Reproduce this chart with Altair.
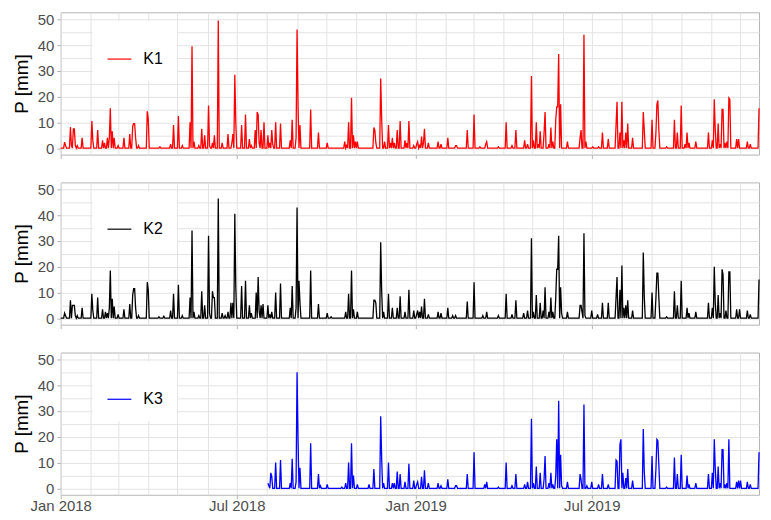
import altair as alt
import numpy as np
import pandas as pd

FONT = "Liberation Sans"
START = "2018-01-01"
N_DAYS = 719  # 2018-01-01 .. 2019-12-20

# Rain events: day offset from 2018-01-01 and value [mm]
k1_day = [4, 5, 10, 11, 13, 14, 15, 17, 22, 32, 33, 38, 43, 45, 48, 50, 51, 53, 55, 59, 65, 71, 74, 75, 76, 77, 80,
          89, 90, 102, 113, 116, 121, 125, 133, 135, 137, 142, 145, 148, 152, 153, 156, 158, 162, 166, 172, 176, 177,
          179, 180, 186, 190, 194, 196, 200, 202, 203, 204, 206, 209, 213, 215, 217, 218, 221, 226, 236, 238, 242,
          243, 244, 246, 257, 265, 274, 292, 294, 296, 299, 301, 303, 305, 322, 323, 324, 329, 330, 333, 337, 339,
          341, 343, 346, 349, 354, 356, 358, 363, 366, 367, 369, 371, 373, 374, 378, 388, 391, 398, 406, 407, 418,
          425, 431, 437, 438, 450, 458, 464, 468, 477, 480, 484, 486, 489, 491, 493, 497, 498, 502, 504, 506, 509,
          510, 511, 512, 514, 521, 534, 535, 538, 540, 547, 553, 557, 563, 571, 572, 575, 577, 579, 581, 583, 588,
          599, 600, 608, 612, 613, 614, 615, 623, 631, 634, 638, 642, 644, 646, 653, 666, 670, 672, 673, 676, 678,
          680, 681, 683, 685, 687, 688, 695, 697, 706, 709, 718]
k1_val = [2.3, 1, 8.2, 1, 7.5, 7.5, 1, 1, 4, 10.5, 3, 7, 3, 2, 4, 4, 15.5, 6.5, 4, 1, 4, 5.5, 8.5, 9.5, 9.5, 4, 1,
          14.3, 11.5, 0.5, 1.5, 9, 12.5, 1, 10, 39.5, 2.5, 1, 7.5, 5, 16.5, 1, 2, 5, 49.5, 2, 5.5, 2, 5.5,
          28.5, 10, 9, 13, 3.5, 1, 7, 14, 13, 2, 7, 10, 5, 2, 7, 1.5, 10, 9.5, 3, 11, 4,
          46, 17, 9, 15, 6, 2, 2.5, 1, 10, 19.5, 5, 2.5, 2.5, 8, 7, 2, 27, 11.5, 2.5, 9, 2,
          4, 2, 7, 10.5, 3, 2, 10.5, 1, 1.5, 2.5, 1, 4.5, 2, 7.5, 2, 2.5, 1.5, 4, 1, 1, 7,
          13, 0.5, 1.5, 2.5, 0.5, 10, 1, 7, 3, 1.5, 28, 3, 10, 1.5, 6.5, 6, 14, 1.5, 8, 2.5, 11,
          16, 16, 36.5, 17, 2.5, 4, 7, 44, 2.5, 0.5, 0.5, 6, 3.5, 9, 18, 6, 18, 3, 6, 9.5, 4,
          14, 7, 11, 6, 17, 18.5, 7, 0.5, 11, 6, 16.5, 1.5, 6, 2, 2.5, 6, 3, 19, 7, 9.5, 1.5,
          15, 15, 2, 2.5, 19.5, 19, 3.5, 3.5, 2.5, 1.5, 15.5]

k2_day = [4, 5, 10, 12, 13, 14, 15, 17, 22, 32, 33, 38, 43, 46, 48, 50, 51, 53, 55, 59, 65, 71, 74, 75, 76, 77, 80,
          89, 90, 101, 106, 113, 116, 121, 125, 133, 135, 137, 142, 145, 148, 152, 153, 156, 157, 158, 162, 166,
          169, 172, 175, 177, 179, 180, 186, 190, 194, 196, 201, 203, 204, 206, 208, 213, 215, 217, 221, 226, 236,
          238, 242, 243, 245, 246, 257, 265, 274, 278, 293, 296, 299, 301, 305, 322, 323, 324, 329, 330, 332, 337,
          341, 346, 349, 354, 358, 363, 366, 367, 369, 371, 374, 378, 388, 391, 398, 403, 406, 418, 425, 434, 438,
          450, 458, 464, 468, 476, 480, 484, 486, 489, 493, 496, 498, 502, 504, 506, 509, 510, 511, 512, 514, 515,
          521, 534, 535, 536, 538, 539, 546, 552, 557, 563, 571, 572, 575, 577, 579, 581, 583, 588, 599, 600, 608,
          612, 613, 614, 615, 623, 631, 634, 638, 644, 646, 653, 666, 670, 672, 673, 676, 678, 680, 681, 684, 687,
          688, 695, 698, 706, 709, 718]
k2_val = [2, 1, 7, 5, 5, 5, 1, 1, 4, 9.5, 3, 8, 3.5, 2.5, 2, 4, 18.5, 7.5, 4.5, 1.5, 3.5, 5.5, 9, 11.5, 11.5, 4, 1,
          14, 11, 0.5, 0.8, 3, 9.5, 13, 1, 8, 34, 2.5, 1, 10.5, 5, 32, 2, 10.5, 8, 8, 46.5, 2,
          1, 2.5, 6, 6, 40.5, 12, 12.5, 14.5, 5, 2, 10, 16, 3, 5, 5.5, 5, 1.5, 2.5, 10, 13.5, 4,
          12.5, 4, 43, 14.5, 6, 18.5, 5.5, 2, 0.5, 2.5, 9.5, 18.5, 3.5, 2.5, 7, 7, 6, 29.5, 10.5, 2.5, 9.5,
          4, 4, 8.5, 2.5, 11, 3, 1.5, 3, 2.5, 4.5, 7.5, 1.5, 2.5, 2, 4, 1, 1, 6.5, 14, 1, 2.5,
          1, 9.5, 1.5, 7, 2, 3, 31, 2.5, 9, 6, 3, 12, 2.5, 8, 2.5, 8, 19, 19, 32, 12, 2,
          2.5, 5, 5, 2.5, 33, 1, 3, 1.5, 6, 6, 8, 16, 11, 20.5, 4, 5, 7, 3, 25.5, 8.5, 10,
          8, 17.5, 17.5, 8, 0.5, 10.5, 5, 14.5, 4, 2, 2.5, 6, 4, 20, 6, 9, 2, 19, 17, 3, 18,
          18, 3.5, 3.5, 3, 1.5, 15]

k3_first_day = 213  # K3 record starts on 2018-08-02
k3_day = [213, 214, 216, 217, 221, 226, 236, 238, 242, 243, 244, 246, 257, 265, 267, 274, 289, 293, 296, 299, 301,
          305, 317, 322, 329, 330, 332, 337, 341, 343, 346, 349, 354, 358, 363, 366, 367, 371, 374, 378, 388, 391,
          398, 406, 407, 418, 425, 436, 438, 450, 458, 464, 468, 477, 480, 484, 486, 489, 493, 497, 498, 502, 504,
          506, 509, 510, 512, 514, 515, 521, 534, 535, 538, 541, 546, 553, 557, 563, 571, 572, 575, 576, 578, 581,
          583, 588, 599, 600, 608, 612, 613, 614, 615, 623, 631, 634, 638, 644, 646, 653, 666, 670, 672, 673, 676,
          678, 680, 681, 683, 685, 687, 695, 697, 699, 706, 709, 718]
k3_val = [2, 1, 6, 4.5, 10, 11, 2, 11.5, 2.5, 45, 19, 8, 17.5, 5.5, 1, 1.5, 0.5, 2, 10, 17.5, 5,
          1.5, 1.5, 7.5, 28, 11.5, 2, 10, 2, 2, 6.5, 5.5, 2.5, 9.5, 3, 1.5, 2.5, 4.5, 7, 2, 2, 1,
          3.5, 1, 1, 5.5, 14, 1.5, 2.5, 0.5, 10, 1, 5.5, 1.5, 2.5, 27, 2, 8.5, 6, 3.5, 12.5, 2, 6,
          1.5, 5, 19, 34, 13, 1, 2.5, 5.5, 3.5, 32.5, 1, 2.5, 1.5, 5.5, 1.5, 11, 10.5, 17, 19, 6, 4,
          7.5, 3, 23, 6.5, 12.5, 7.5, 19, 18.5, 9, 0.5, 12, 5.5, 13, 5, 1.5, 2, 5.5, 6, 19, 8, 8.5,
          2, 15, 15, 1.5, 2, 19, 2.5, 3, 3, 2.5, 1.5, 14]

series_names = ["K1", "K2", "K3"]
series_colors = ["#FF0000", "#000000", "#0000FF"]
y_ticks = [0, 5, 10, 15, 20, 25, 30, 35, 40, 45, 50]


def frame(name, days, vals, first=0):
    p = np.zeros(N_DAYS)
    p[np.array(days)] = vals
    dates = pd.date_range(START, periods=N_DAYS, freq="D")
    df = pd.DataFrame({"date": dates.strftime("%Y-%m-%dT00:00:00"), "P": p, "series": name})
    return df.iloc[first:].reset_index(drop=True)


frames = [
    frame("K1", k1_day, k1_val),
    frame("K2", k2_day, k2_val),
    frame("K3", k3_day, k3_val, k3_first_day),
]

month_ticks = [alt.DateTime(year=2018 + i // 12, month=i % 12 + 1, date=1) for i in range(24)]
GRID = "#e3e3e3"
BORDER = "#b3b3b3"
TXT = "#4d4d4d"


def panel(df, name, color, show_labels):
    x_axis = alt.Axis(
        values=month_ticks,
        labels=show_labels,
        labelExpr="month(datum.value) % 6 == 0 ? timeFormat(datum.value, '%b %Y') : ''",
        labelOverlap=False,
        labelFlush=False,
        labelFont=FONT,
        labelFontSize=15,
        labelColor=TXT,
        labelPadding=0,
        title=None,
        grid=True,
        gridColor=GRID,
        gridWidth=1,
        domain=False,
        tickSize=4,
        tickColor=BORDER,
        tickOpacity={"expr": "month(datum.value) % 6 == 0 ? 1 : 0"},
    )
    y_axis = alt.Axis(
        values=y_ticks,
        labelExpr="datum.value % 10 == 0 ? datum.label : ''",
        labelFont=FONT,
        labelFontSize=15,
        labelColor=TXT,
        labelPadding=3,
        title="P [mm]",
        titleFont=FONT,
        titleFontSize=19,
        titleFontWeight="normal",
        titleColor="#000000",
        titlePadding=6,
        grid=True,
        gridColor=GRID,
        gridWidth=1,
        domain=False,
        tickSize=4,
        tickColor=BORDER,
        tickOpacity={"expr": "datum.value % 10 == 0 ? 1 : 0"},
    )
    legend = alt.Legend(
        orient="none",
        legendX=32,
        legendY=9,
        fillColor="white",
        padding=14,
        title=" ",
        titleFontSize=8,
        titlePadding=3,
        symbolType="stroke",
        symbolSize=576,
        symbolStrokeWidth=1.2,
        labelFont=FONT,
        labelFontSize=16,
        labelColor="#000000",
        labelOffset=11,
    )
    return (
        alt.Chart(df)
        .mark_line(strokeWidth=1.3)
        .encode(
            x=alt.X("date:T", axis=x_axis,
                    scale=alt.Scale(domain=[alt.DateTime(year=2018, month=1, date=1),
                                            alt.DateTime(year=2019, month=12, date=20)], nice=False)),
            y=alt.Y("P:Q", axis=y_axis, scale=alt.Scale(domain=[-2.5, 52.7], nice=False, zero=False)),
            color=alt.Color("series:N", scale=alt.Scale(domain=[name], range=[color]), legend=legend),
        )
        .properties(width=702, height=143)
    )


panels = [panel(frames[i], series_names[i], series_colors[i], i == 2) for i in range(3)]

chart = (
    alt.vconcat(*panels, spacing=22)
    .resolve_scale(color="independent")
    .resolve_legend(color="independent")
    .properties(padding={"left": 3, "top": 2, "right": 0, "bottom": 0}, background="white")
    .configure_view(stroke=BORDER, strokeWidth=1)
)

chart.save("out.html", embed_options={"renderer": "svg", "actions": False})
